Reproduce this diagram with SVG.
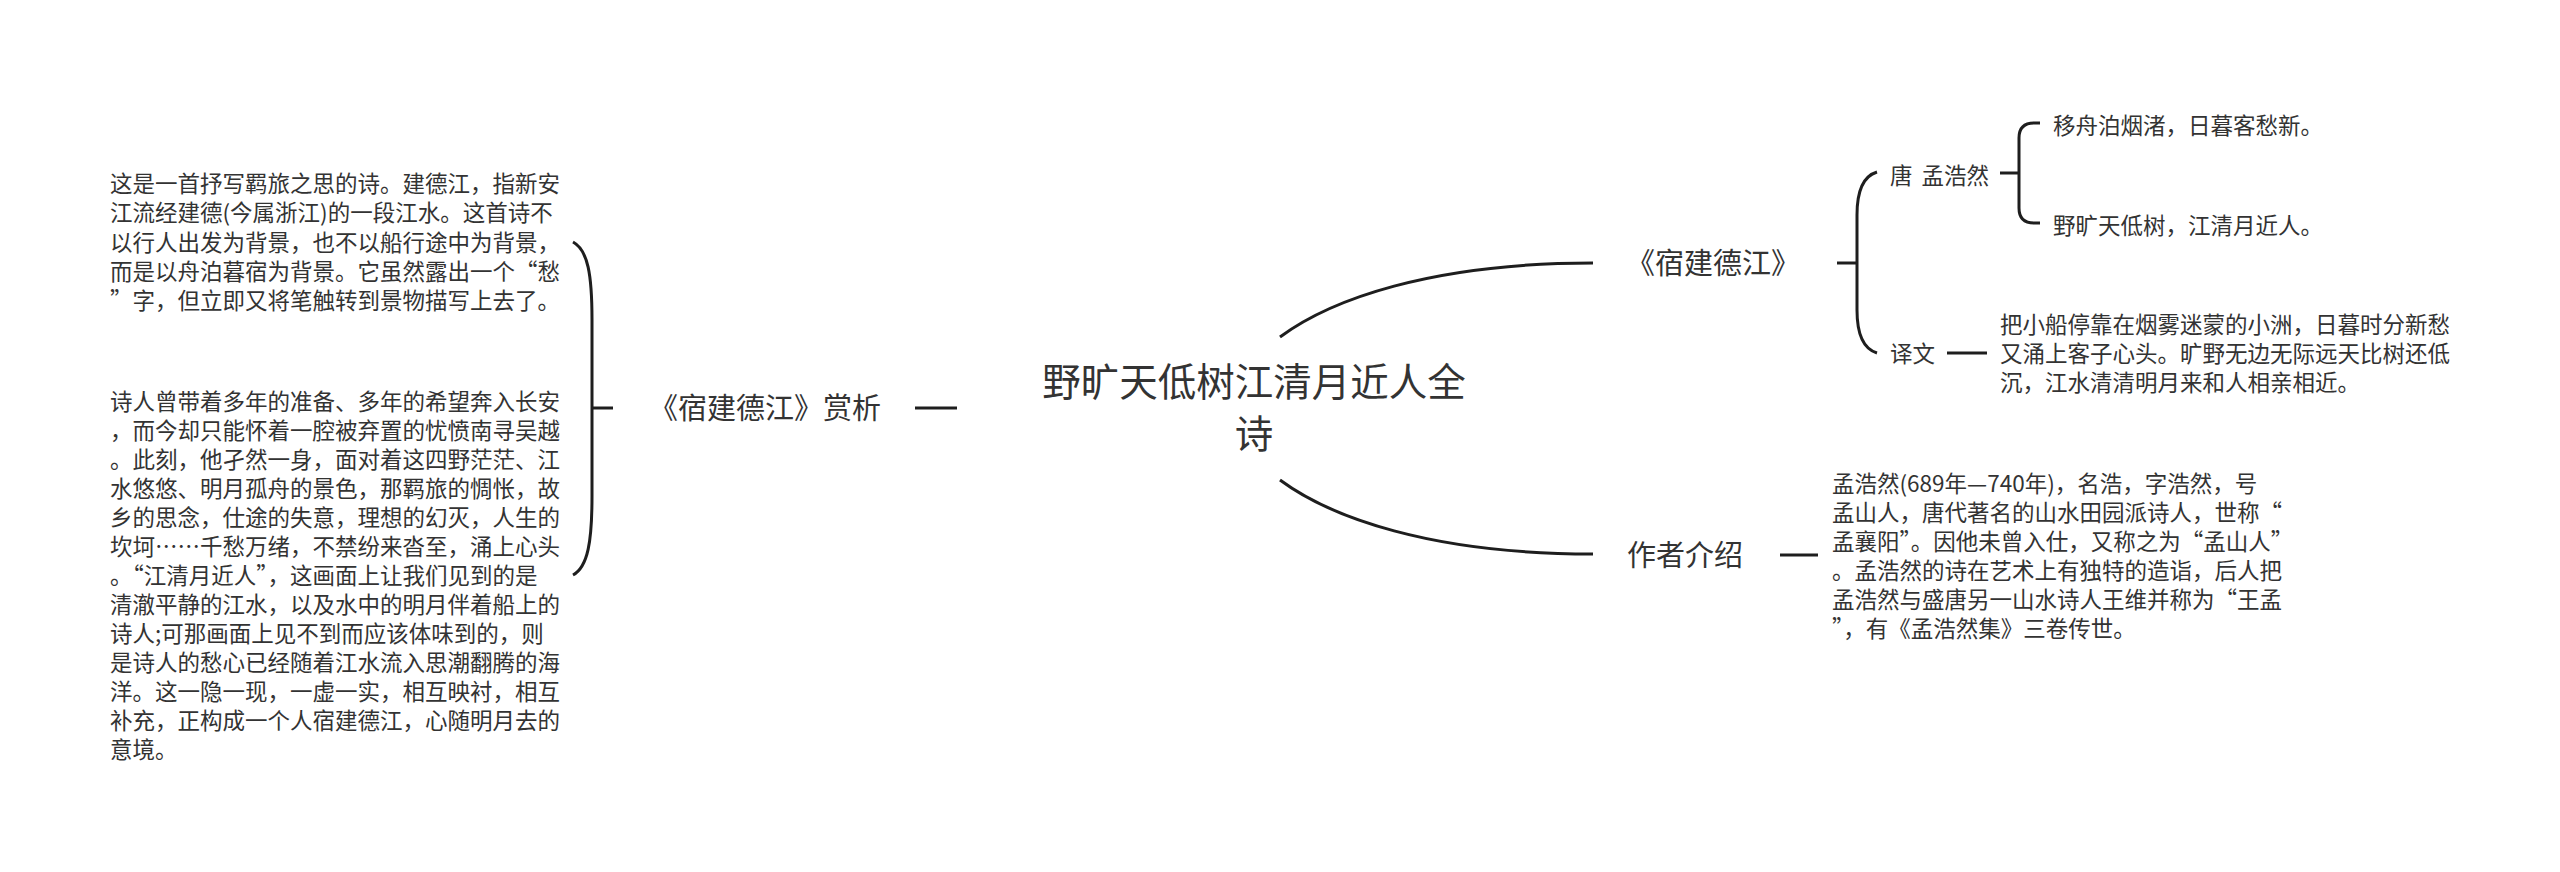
<svg xmlns="http://www.w3.org/2000/svg" width="2560" height="872" viewBox="0 0 2560 872">
<style>
.t{font-family:"Noto Sans CJK SC","Noto Sans",sans-serif;fill:#333}
.s{font-size:22.5px}
.m{font-size:29px}
.c{font-size:38.5px}
.ln{fill:none;stroke:#1e1e1e;stroke-width:3;stroke-linecap:butt}
</style>
<rect width="2560" height="872" fill="#ffffff"/>
<g id="connectors">
<path class="ln" d="M1280,337 C1330,300 1430,263 1593,263"/>
<path class="ln" d="M1280,480 C1330,517 1430,554 1593,554"/>
<path class="ln" d="M915,408 H957"/>
<path class="ln" d="M593,408 H613"/>
<path class="ln" d="M573,242 C588,250 592,275 592,320 V496 C592,541 588,567 573,575"/>
<path class="ln" d="M1837,263 H1857"/>
<path class="ln" d="M1877,172 Q1857,178 1857,215 V310 Q1857,347 1877,353"/>
<path class="ln" d="M2000,173 H2019"/>
<path class="ln" d="M2040,123 H2034 Q2019,123 2019,138 V208 Q2019,223 2034,223 H2040"/>
<path class="ln" d="M1947,353 H1987"/>
<path class="ln" d="M1780,555 H1818"/>
</g>
<g id="root">
<text class="t c" text-anchor="middle"><tspan x="1254" y="396">野旷天低树江清月近人全</tspan><tspan x="1254" y="448">诗</tspan></text>
</g>
<g id="appreciation">
<text class="t m" x="881" y="419" text-anchor="end">《宿建德江》赏析</text>
</g>
<g id="appreciation-1">
<text class="t s"><tspan x="110" y="192">这是一首抒写羁旅之思的诗。建德江，指新安</tspan><tspan x="110" y="221">江流经建德(今属浙江)的一段江水。这首诗不</tspan><tspan x="110" y="250.5">以行人出发为背景，也不以船行途中为背景，</tspan><tspan x="110" y="280">而是以舟泊暮宿为背景。它虽然露出一个“愁</tspan><tspan x="110" y="309">”字，但立即又将笔触转到景物描写上去了。</tspan></text>
</g>
<g id="appreciation-2">
<text class="t s"><tspan x="110" y="409.5">诗人曾带着多年的准备、多年的希望奔入长安</tspan><tspan x="110" y="438.5">，而今却只能怀着一腔被弃置的忧愤南寻吴越</tspan><tspan x="110" y="467.5">。此刻，他孑然一身，面对着这四野茫茫、江</tspan><tspan x="110" y="496.5">水悠悠、明月孤舟的景色，那羁旅的惆怅，故</tspan><tspan x="110" y="525.5">乡的思念，仕途的失意，理想的幻灭，人生的</tspan><tspan x="110" y="554.5">坎坷……千愁万绪，不禁纷来沓至，涌上心头</tspan><tspan x="110" y="583.5">。“江清月近人”，这画面上让我们见到的是</tspan><tspan x="110" y="612.5">清澈平静的江水，以及水中的明月伴着船上的</tspan><tspan x="110" y="641.5">诗人;可那画面上见不到而应该体味到的，则</tspan><tspan x="110" y="670.5">是诗人的愁心已经随着江水流入思潮翻腾的海</tspan><tspan x="110" y="699.5">洋。这一隐一现，一虚一实，相互映衬，相互</tspan><tspan x="110" y="728.5">补充，正构成一个人宿建德江，心随明月去的</tspan><tspan x="110" y="757.5">意境。</tspan></text>
</g>
<g id="poem">
<text class="t m" x="1713" y="274" text-anchor="middle">《宿建德江》</text>
</g>
<g id="poet">
<text class="t s" x="1890" y="183.5" word-spacing="4">唐 孟浩然</text>
</g>
<g id="line-1">
<text class="t s" x="2053" y="133.5">移舟泊烟渚，日暮客愁新。</text>
</g>
<g id="line-2">
<text class="t s" x="2053" y="233.5">野旷天低树，江清月近人。</text>
</g>
<g id="translation">
<text class="t s" x="1890" y="361.5">译文</text>
</g>
<g id="translation-text">
<text class="t s"><tspan x="2000" y="332.5">把小船停靠在烟雾迷蒙的小洲，日暮时分新愁</tspan><tspan x="2000" y="361.5">又涌上客子心头。旷野无边无际远天比树还低</tspan><tspan x="2000" y="390.5">沉，江水清清明月来和人相亲相近。</tspan></text>
</g>
<g id="author">
<text class="t m" x="1627" y="566">作者介绍</text>
</g>
<g id="author-text">
<text class="t s"><tspan x="1832" y="492">孟浩然(689年—740年)，名浩，字浩然，号</tspan><tspan x="1832" y="521">孟山人，唐代著名的山水田园派诗人，世称“</tspan><tspan x="1832" y="550">孟襄阳”。因他未曾入仕，又称之为“孟山人”</tspan><tspan x="1832" y="579">。孟浩然的诗在艺术上有独特的造诣，后人把</tspan><tspan x="1832" y="608">孟浩然与盛唐另一山水诗人王维并称为“王孟</tspan><tspan x="1832" y="637">”，有《孟浩然集》三卷传世。</tspan></text>
</g>
</svg>
